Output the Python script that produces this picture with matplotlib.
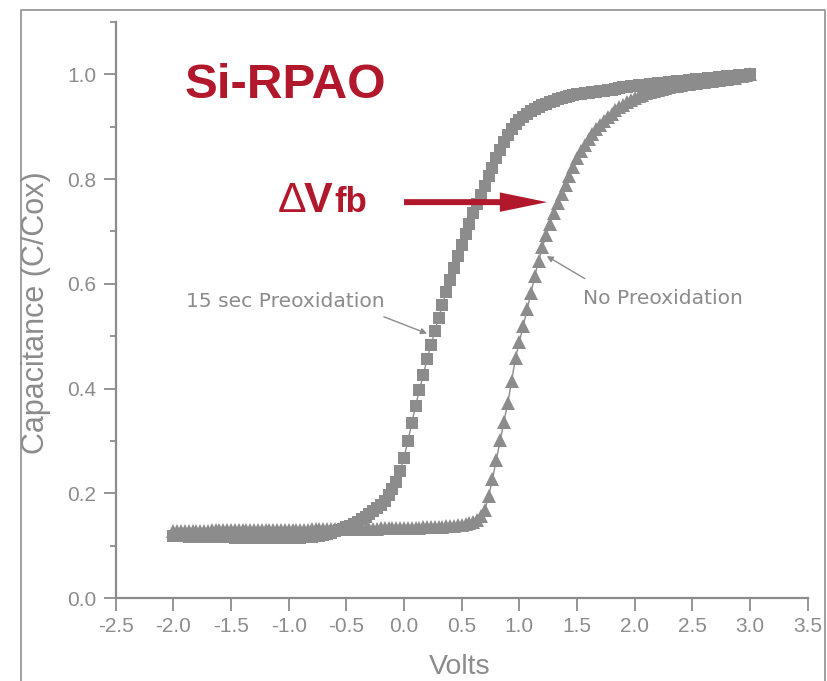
import numpy as np
import matplotlib
matplotlib.use("Agg")
import matplotlib.pyplot as plt
from matplotlib.lines import Line2D
from matplotlib.patches import FancyArrowPatch, ArrowStyle

plt.rcParams['font.family'] = ['Liberation Sans', 'DejaVu Sans']
plt.rcParams['axes.unicode_minus'] = False

# Gate bias sweep (V), 151 points from -2 V to +3 V
volts = np.linspace(-2.0, 3.0, 151)

# Normalised capacitance C/Cox, 15 s preoxidation (squares)
cap_preox15 = [
    0.118, 0.118, 0.118, 0.118, 0.117, 0.117, 0.117, 0.117, 0.117, 0.116,
    0.116, 0.116, 0.116, 0.116, 0.116, 0.116, 0.115, 0.115, 0.115, 0.115,
    0.115, 0.115, 0.114, 0.114, 0.114, 0.114, 0.114, 0.114, 0.114, 0.114,
    0.114,
    0.114, 0.115, 0.115, 0.116, 0.116, 0.117, 0.118, 0.119, 0.120, 0.122,
    0.124, 0.127, 0.129, 0.132, 0.135,
    0.138, 0.142, 0.146, 0.150, 0.155, 0.160, 0.166, 0.172, 0.178, 0.186,
    0.196, 0.208, 0.222, 0.243, 0.268,
    0.300, 0.334, 0.367, 0.397, 0.426, 0.456, 0.483, 0.509, 0.535, 0.560,
    0.585, 0.608, 0.631, 0.653, 0.675,
    0.695, 0.715, 0.735, 0.752, 0.770, 0.787, 0.805, 0.822, 0.840, 0.856,
    0.870, 0.884, 0.895, 0.905, 0.913,
    0.919, 0.925, 0.930, 0.934, 0.938, 0.941, 0.944, 0.947, 0.950, 0.952,
    0.954, 0.956, 0.958, 0.960, 0.962,
    0.963, 0.964, 0.965, 0.966, 0.967, 0.968, 0.969, 0.970, 0.971, 0.972,
    0.974, 0.975, 0.976, 0.977, 0.978,
    0.979, 0.979, 0.980, 0.981, 0.982, 0.983, 0.983, 0.984, 0.985, 0.986,
    0.987, 0.987, 0.988, 0.989, 0.990,
    0.991, 0.991, 0.992, 0.993, 0.993, 0.994, 0.995, 0.995, 0.996, 0.996,
    0.997, 0.998, 0.998, 0.999, 1.000,
]

# Normalised capacitance C/Cox, no preoxidation (triangles)
cap_no_preox = [
    0.128, 0.128, 0.128, 0.128, 0.128, 0.128, 0.128, 0.128, 0.128, 0.128,
    0.129, 0.129, 0.129, 0.129, 0.129, 0.129, 0.129, 0.129, 0.129, 0.129,
    0.130, 0.130, 0.130, 0.130, 0.130, 0.130, 0.130, 0.130, 0.130, 0.130,
    0.130,
    0.130, 0.130, 0.130, 0.130, 0.130, 0.131, 0.131, 0.131, 0.131, 0.131,
    0.131, 0.131, 0.131, 0.131, 0.132,
    0.132, 0.132, 0.132, 0.132, 0.132, 0.132, 0.132, 0.132, 0.133, 0.133,
    0.133, 0.133, 0.133, 0.133, 0.133,
    0.133, 0.134, 0.134, 0.134, 0.135, 0.135, 0.135, 0.136, 0.136, 0.136,
    0.137, 0.137, 0.138, 0.139, 0.140,
    0.141, 0.143, 0.145, 0.149, 0.157, 0.168, 0.194, 0.227, 0.264, 0.301,
    0.337, 0.373, 0.415, 0.459, 0.489,
    0.519, 0.551, 0.582, 0.615, 0.643, 0.670, 0.694, 0.714, 0.736, 0.755,
    0.772, 0.789, 0.806, 0.823, 0.840,
    0.853, 0.865, 0.876, 0.886, 0.895, 0.903, 0.911, 0.918, 0.925, 0.931,
    0.937, 0.942, 0.947, 0.951, 0.955,
    0.958, 0.961, 0.964, 0.966, 0.968, 0.970, 0.972, 0.974, 0.975, 0.977,
    0.978, 0.979, 0.981, 0.982, 0.983,
    0.984, 0.985, 0.986, 0.987, 0.988, 0.989, 0.990, 0.991, 0.992, 0.993,
    0.994, 0.996, 0.997, 0.998, 1.000,
]

x_ticks = [-2.5, -2.0, -1.5, -1.0, -0.5, 0.0, 0.5, 1.0, 1.5, 2.0, 2.5, 3.0, 3.5]
y_ticks = [0.0, 0.2, 0.4, 0.6, 0.8, 1.0]
y_minor = [0.1, 0.3, 0.5, 0.7, 0.9, 1.1]

# Flat-band shift arrow (V, C/Cox)
shift_start, shift_end, shift_level = 0.0, 1.24, 0.756

GRAY = '#8c8c8c'
RED = '#b2182b'
W, H = 828, 681

fig = plt.figure(figsize=(W / 100, H / 100), dpi=100)
ax = fig.add_axes([115.7 / W, 1 - 598 / H, 692 / W, 576 / H])

ax.plot(volts, cap_preox15, color=GRAY, lw=1.0, marker='s', ms=8.0,
        mec=GRAY, mfc=GRAY, mew=0, zorder=3)
ax.plot(volts, cap_no_preox, color=GRAY, lw=1.0, marker='^', ms=10.0,
        mec=GRAY, mfc=GRAY, mew=0, zorder=4)

ax.set_xlim(-2.5, 3.5)
ax.set_ylim(0.0, 1.1)
ax.set_xticks(x_ticks)
ax.set_xticklabels([f"{v:.1f}" for v in x_ticks])
ax.set_yticks(y_ticks)
ax.set_yticklabels([f"{v:.1f}" for v in y_ticks])
ax.set_yticks(y_minor, minor=True)

for side in ('top', 'right'):
    ax.spines[side].set_visible(False)
for side in ('left', 'bottom'):
    ax.spines[side].set_color(GRAY)
    ax.spines[side].set_linewidth(1.6)

ax.tick_params(axis='both', which='major', direction='out', length=9,
               width=1.3, color=GRAY, labelcolor=GRAY, labelsize=15, pad=5)
ax.tick_params(axis='y', which='minor', direction='out', length=4.5,
               width=1.3, color=GRAY)

fig.text(36 / W, 1 - 313 / H, 'Capacitance (C/Cox)', rotation=90,
         ha='center', va='center', color=GRAY, fontsize=22)
fig.text(460 / W, 1 - 667 / H, 'Volts', ha='center', va='center',
         color=GRAY, fontsize=20.5)

# Outer frame
frame_x = [21 / W, 21 / W, 825 / W, 825 / W]
frame_y = [0.0, 1 - 10 / H, 1 - 10 / H, 0.0]
fig.add_artist(Line2D(frame_x, frame_y, transform=fig.transFigure,
                      color='#9a9a9a', lw=1.3))

# Titles in red
fig.text(185 / W, 1 - 98 / H, 'Si-RPAO', ha='left', va='baseline',
         color=RED, fontsize=35.5, fontweight='bold')
fig.text(278 / W, 1 - 212 / H, 'Δ', ha='left', va='baseline',
         color=RED, fontsize=31)
fig.text(304 / W, 1 - 212 / H, 'V', ha='left', va='baseline',
         color=RED, fontsize=31, fontweight='bold')
fig.text(334 / W, 1 - 212 / H, 'fb', ha='left', va='baseline',
         color=RED, fontsize=25, fontweight='bold')

shift = FancyArrowPatch((shift_start, shift_level), (shift_end, shift_level),
                        arrowstyle=ArrowStyle.Simple(head_length=34,
                                                     head_width=14,
                                                     tail_width=4.3),
                        mutation_scale=1, color=RED, lw=0,
                        shrinkA=0, shrinkB=0, zorder=5)
ax.add_patch(shift)

# Curve labels with pointers
arrow_kw = dict(arrowstyle='-|>', color=GRAY, lw=1.0, mutation_scale=9,
                shrinkA=0, shrinkB=0)
ax.annotate('', xy=(0.20, 0.505), xytext=(-0.175, 0.537), arrowprops=arrow_kw)
ax.text(-1.891, 0.556, '15 sec Preoxidation', ha='left', va='baseline',
        color=GRAY, fontsize=14.6, family=['DejaVu Sans'])
ax.annotate('', xy=(1.237, 0.653), xytext=(1.567, 0.61), arrowprops=arrow_kw)
ax.text(1.55, 0.562, 'No Preoxidation', ha='left', va='baseline',
        color=GRAY, fontsize=14.6, family=['DejaVu Sans'])

fig.savefig('out.png', dpi=100)
